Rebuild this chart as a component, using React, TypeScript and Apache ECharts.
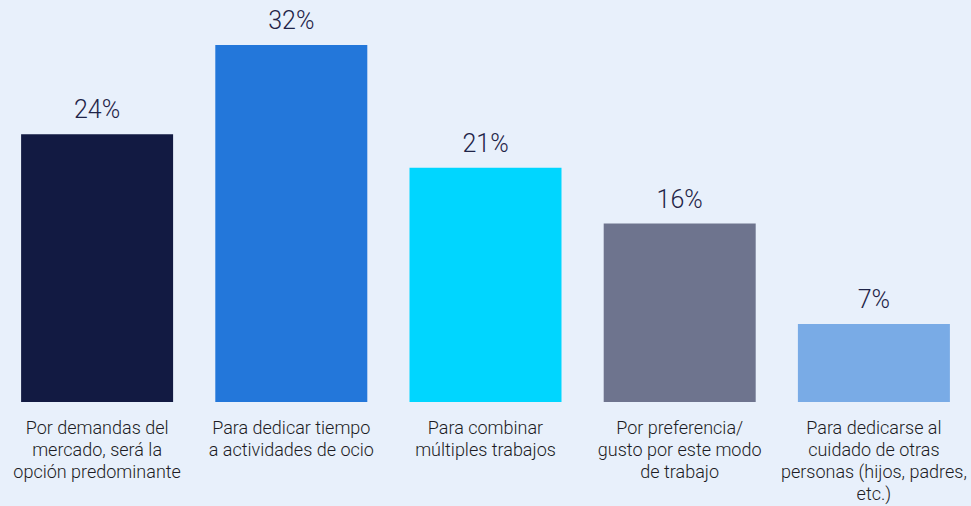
import React, { useEffect, useRef } from "react";
import * as echarts from "echarts";

const categories = [
  "Por demandas del\nmercado, será la\nopción predominante",
  "Para dedicar tiempo\na actividades de ocio",
  "Para combinar\nmúltiples trabajos",
  "Por preferencia/\ngusto por este modo\nde trabajo",
  "Para dedicarse al\ncuidado de otras\npersonas (hijos, padres,\netc.)",
];
const values = [24, 32, 21, 16, 7];
const colors = ["#121a42", "#2377da", "#00d6ff", "#6e748e", "#79abe6"];

export default function App() {
  const ref = useRef<HTMLDivElement>(null);
  useEffect(() => {
    document.body.style.margin = "0";
    const chart = echarts.init(ref.current!, null, { renderer: "svg" });
    chart.setOption({
      animation: false,
      backgroundColor: "#e8f0fb",
      textStyle: { fontFamily: "Roboto" },
      grid: { left: 0, right: 0, top: 45, bottom: 104, containLabel: false },
      xAxis: {
        type: "category",
        data: categories,
        axisLine: { show: false },
        axisTick: { show: false },
        axisLabel: {
          interval: 0,
          margin: 14,
          fontSize: 18,
          lineHeight: 22,
          color: "#1c1c24",
          fontFamily: "Roboto",
          fontWeight: 300,
        },
      },
      yAxis: {
        type: "value",
        min: 0,
        max: 32,
        show: false,
        splitLine: { show: false },
      },
      series: [
        {
          type: "bar",
          barWidth: 152,
          data: values.map((v, i) => ({ value: v, itemStyle: { color: colors[i] } })),
          label: {
            show: true,
            position: "top",
            distance: 12,
            formatter: "{c}%",
            fontSize: 25,
            color: "#1f2448",
            fontFamily: "Roboto",
            fontWeight: 300,
          },
        },
      ],
    });
    return () => chart.dispose();
  }, []);
  return <div ref={ref} style={{ width: 971, height: 506 }} />;
}
